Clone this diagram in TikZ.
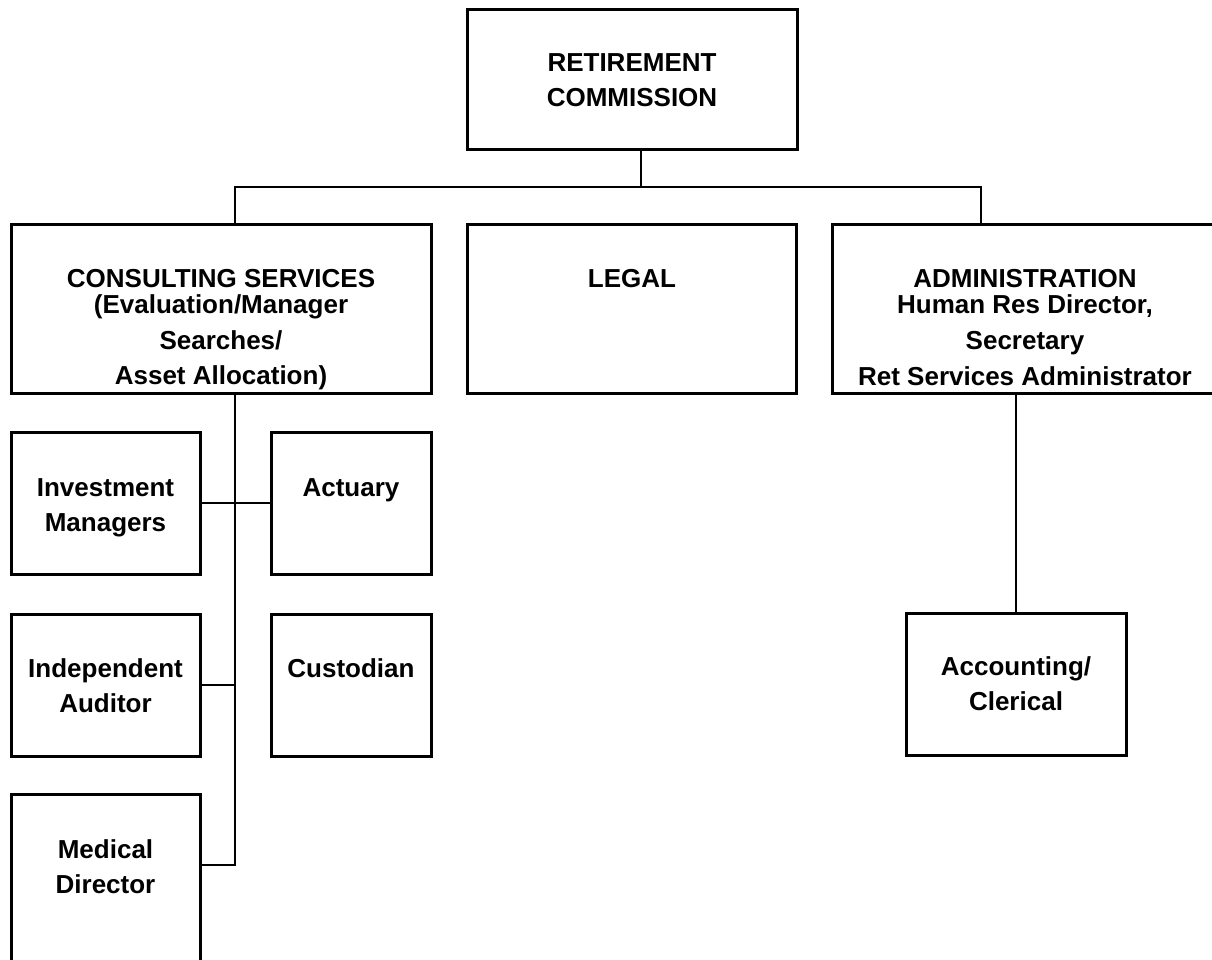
\documentclass[tikz,border=0pt]{standalone}
\usepackage{fontspec}
\setmainfont{Liberation Sans}
\begin{document}
\begin{tikzpicture}[x=1pt,y=-1pt,
    box/.style={draw,line width=3pt,inner sep=0pt,outer sep=0pt,anchor=north west},
    big/.style={font=\fontsize{26}{35}\selectfont\bfseries,align=center,anchor=base,inner sep=0pt},
    mid/.style={font=\fontsize{26}{26}\selectfont\bfseries,align=center,anchor=base,inner sep=0pt},
    link/.style={line width=1.8pt}]
    \useasboundingbox (0,0) rectangle (1212,960);
    \clip (0,0) rectangle (1212,960);

    % boxes
    \draw node at (467,10)[name=top,box,minimum width=330pt,minimum height=140pt]{};
    \draw node at (11,224)[name=cons,box,minimum width=420pt,minimum height=169pt]{};
    \draw node at (467,224)[name=legal,box,minimum width=329pt,minimum height=169pt]{};
    \draw node at (832,224)[name=admin,box,minimum width=386pt,minimum height=169pt]{};
    \draw node at (11,432)[name=invm,box,minimum width=189pt,minimum height=142pt]{};
    \draw node at (271,432)[name=act,box,minimum width=160pt,minimum height=142pt]{};
    \draw node at (11,614)[name=aud,box,minimum width=189pt,minimum height=142pt]{};
    \draw node at (271,614)[name=cust,box,minimum width=160pt,minimum height=142pt]{};
    \draw node at (11,794)[name=med,box,minimum width=189pt,minimum height=190pt]{};
    \draw node at (906,613)[name=acct,box,minimum width=220pt,minimum height=142pt]{};

    % texts (anchored on the last line)
    \draw node at (632,107)[name=topT,big]{RETIREMENT\\COMMISSION};
    \draw node at (221,384)[name=consT,mid]{CONSULTING SERVICES\\(Evaluation/Manager\\[10pt]Searches/\\[9pt]Asset Allocation)};
    \draw node at (632,287)[name=legalT,mid]{LEGAL};
    \draw node at (1025,385)[name=adminT,mid]{ADMINISTRATION\\Human Res Director,\\[10pt]Secretary\\[10pt]Ret Services Administrator};
    \draw node at (105.5,531)[name=invmT,big]{Investment\\Managers};
    \draw node at (351,496)[name=actT,big]{Actuary};
    \draw node at (105.5,712)[name=audT,big]{Independent\\Auditor};
    \draw node at (351,677)[name=custT,big]{Custodian};
    \draw node at (105.5,893)[name=medT,big]{Medical\\Director};
    \draw node at (1016,710)[name=acctT,big]{Accounting/\\Clerical};

    % connectors
    \draw[link] ([xshift=9pt]top.south) -- ++(0,37) coordinate (bus);
    \draw[link] ([xshift=14pt]cons.north) |- (bus) -| ([xshift=-44pt]admin.north);
    \draw[link] ([xshift=14pt]cons.south) coordinate (spine) |- ([yshift=24pt]med.east);
    \draw[link] (invm.east) -- (act.west);
    \draw[link] (aud.east) -- (aud.east -| spine);
    \draw[link] (acct.north |- admin.south) -- (acct.north);
\end{tikzpicture}
\end{document}
